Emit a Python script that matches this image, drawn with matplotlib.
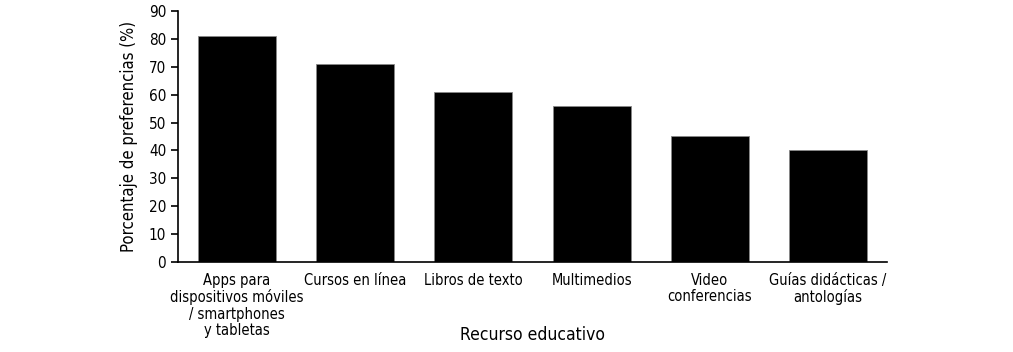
import matplotlib.pyplot as plt
import numpy as np

plt.rcParams['font.family'] = ['DejaVu Sans']
plt.rcParams['font.stretch'] = 'condensed'

categorias = ['Apps para\ndispositivos móviles\n/ smartphones\ny tabletas',
              'Cursos en línea', 'Libros de texto', 'Multimedios',
              'Video\nconferencias', 'Guías didácticas /\nantologías']
valores = [81, 71, 61, 56, 45, 40]
yticks = [0, 10, 20, 30, 40, 50, 60, 70, 80, 90]

fig = plt.figure(figsize=(10.13, 3.52), dpi=100)
ax = fig.add_axes([0.1757, 0.2557, 0.700, 0.7131])
x = np.arange(len(categorias))
ax.bar(x, valores, width=0.66, color='black', edgecolor='#888888', linewidth=0.6)
ax.set_xlim(-0.5, len(categorias) - 0.5)
ax.set_ylim(0, 90)
ax.set_yticks(yticks)
ax.set_xticks(x)
ax.set_xticklabels(categorias, fontsize=10.5, linespacing=1.1)
ax.tick_params(axis='x', length=0, pad=8)
ax.tick_params(axis='y', length=5, labelsize=11, width=1.2)
for s in ['top', 'right']:
    ax.spines[s].set_visible(False)
ax.spines['left'].set_linewidth(1.2)
ax.spines['bottom'].set_linewidth(1.2)
ax.set_ylabel('Porcentaje de preferencias (%)', fontsize=12, labelpad=8)
fig.text(0.5257, 0.048, 'Recurso educativo', fontsize=12.5, ha='center', va='center')
fig.savefig('out.png', dpi=100)
